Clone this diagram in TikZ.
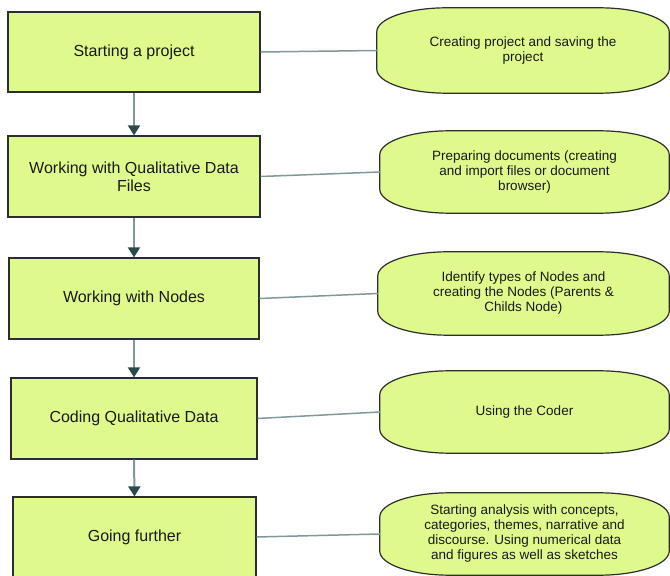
\documentclass[tikz,border=0pt]{standalone}
\usepackage{fontspec}
\setmainfont{Liberation Sans}
\usetikzlibrary{arrows.meta,calc,backgrounds}
\definecolor{limefill}{RGB}{223,250,140}
\definecolor{boxline}{RGB}{45,45,45}
\definecolor{connline}{RGB}{128,152,152}
\definecolor{tipcol}{RGB}{44,74,74}
\definecolor{txtcol}{RGB}{25,25,25}
\newcommand\ovalat[1]{%
  \begin{scope}[on background layer]
  \draw[ovaloutline]
    ($(#1.north west)+(70,0)$) -- ($(#1.north east)+(-70,0)$)
    arc[start angle=90,end angle=0,x radius=70pt,y radius=24pt]
    -- ($(#1.south east)+(0,24)$)
    arc[start angle=0,end angle=-90,x radius=70pt,y radius=24pt]
    -- ($(#1.south west)+(70,0)$)
    arc[start angle=270,end angle=180,x radius=70pt,y radius=24pt]
    -- ($(#1.north west)+(0,-24)$)
    arc[start angle=180,end angle=90,x radius=70pt,y radius=24pt]
    -- cycle;
  \end{scope}}
\begin{document}
\begin{tikzpicture}[x=1pt,y=1pt,
  stepbox/.style={draw=boxline,line width=1.2pt,fill=limefill,rectangle,
    align=center,text=txtcol,font=\fontsize{16}{18}\selectfont,inner sep=0pt},
  ovalnode/.style={rectangle,draw=none,align=center,text=txtcol,
    font=\fontsize{13.5}{15}\selectfont,inner sep=0pt},
  ovaloutline/.style={draw=boxline,line width=1.2pt,fill=limefill},
  flowarrow/.style={draw=connline,line width=2pt,
    -{Triangle[length=10pt,width=12pt,color=tipcol]}},
  linkline/.style={draw=connline,line width=1.5pt}]
\useasboundingbox (0,0) rectangle (670,576);
\clip (0,0) rectangle (670,576);

\node[stepbox,minimum width=252pt,minimum height=80pt] (b1) at (134,524) {Starting a project};
\node[stepbox,minimum width=252pt,minimum height=81pt] (b2) at (134,399.5) {Working with Qualitative Data\\Files};
\node[stepbox,minimum width=250pt,minimum height=81pt] (b3) at (134,277.5) {Working with Nodes};
\node[stepbox,minimum width=246pt,minimum height=81pt] (b4) at (134,157.5) {Coding Qualitative Data};
\node[stepbox,minimum width=243pt,minimum height=80pt] (b5) at (134.5,39) {Going further};

\node[ovalnode,minimum width=292pt,minimum height=85pt] (e1) at (523,525.5) {Creating project and saving the\\project};
\node[ovalnode,minimum width=289pt,minimum height=82pt] (e2) at (524.5,404) {Preparing documents (creating\\and import files or document\\browser)};
\node[ovalnode,minimum width=291pt,minimum height=83pt] (e3) at (523.5,282.5) {Identify types of Nodes and\\creating the Nodes (Parents \&\\Childs Node)};
\node[ovalnode,minimum width=289pt,minimum height=82pt] (e4) at (524.5,164) {Using the Coder};
\node[ovalnode,minimum width=289pt,minimum height=82pt] (e5) at (524.5,42) {Starting analysis with concepts,\\categories, themes, narrative and\\discourse. Using numerical data\\and figures as well as sketches};

\ovalat{e1}\ovalat{e2}\ovalat{e3}\ovalat{e4}\ovalat{e5}

\draw[flowarrow] (b1.south) -- (b2.north);
\draw[flowarrow] (b2.south) -- (b3.north);
\draw[flowarrow] (b3.south) -- (b4.north);
\draw[flowarrow] (b4.south) -- (b5.north);

\draw[linkline] (b1.east) -- (e1.west);
\draw[linkline] (b2.east) -- (e2.west);
\draw[linkline] (b3.east) -- (e3.west);
\draw[linkline] (b4.east) -- (e4.west);
\draw[linkline] (b5.east) -- (e5.west);
\end{tikzpicture}
\end{document}
